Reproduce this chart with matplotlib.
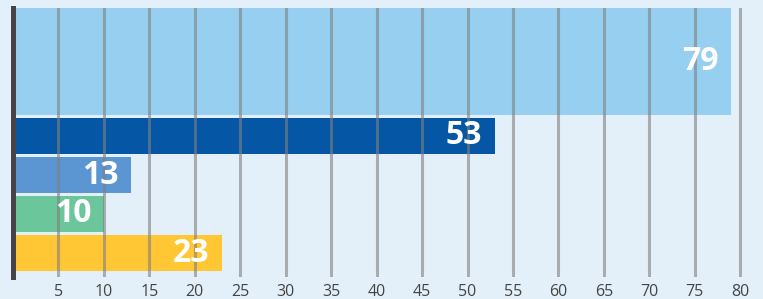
import numpy as np
import matplotlib.pyplot as plt

# Data
values = [79, 53, 13, 10, 23]
colors = ['#96cff0', '#0656a6', '#5b95d2', '#6cc69b', '#ffc734']
ticks = [5, 10, 15, 20, 25, 30, 35, 40, 45, 50, 55, 60, 65, 70, 75, 80]

# first bar is much taller than the others
heights = np.array([107, 36, 36, 36, 36])
gap = 3
tops = np.concatenate([[0], np.cumsum(heights + gap)[:-1]])
centers = tops + heights / 2

bg = '#e3f0f9'
fig = plt.figure(figsize=(7.63, 2.99), dpi=100, facecolor=bg)
ax = fig.add_axes([13 / 763, 22 / 299, 9.09 * 81 / 763, 269 / 299])
ax.set_facecolor(bg)

ax.barh(centers, values, height=heights, color=colors, zorder=1)

ax.set_xlim(0, 81)
ax.set_ylim(269, 0)

ax.set_axisbelow(False)
ax.grid(axis='x', color='#808080', alpha=0.6, linewidth=2.2)
ax.set_xticks(ticks)
ax.set_xticklabels([str(t) for t in ticks], fontsize=11.5, color='#444444',
                   family='Open Sans')
ax.tick_params(axis='x', length=0, pad=5)
ax.set_yticks([])

for s in ['top', 'right', 'bottom']:
    ax.spines[s].set_visible(False)
ax.spines['left'].set_color('#444444')
ax.spines['left'].set_linewidth(3.6)
ax.spines['left'].set_zorder(4)

for c, v in zip(centers, values):
    ax.annotate(str(v), (v, c), xytext=(-9, 0), textcoords='offset points',
                ha='right', va='center', color='white', fontsize=23,
                fontweight='bold', family='Open Sans', zorder=3)

fig.savefig('out.png', dpi=100, facecolor=bg)
